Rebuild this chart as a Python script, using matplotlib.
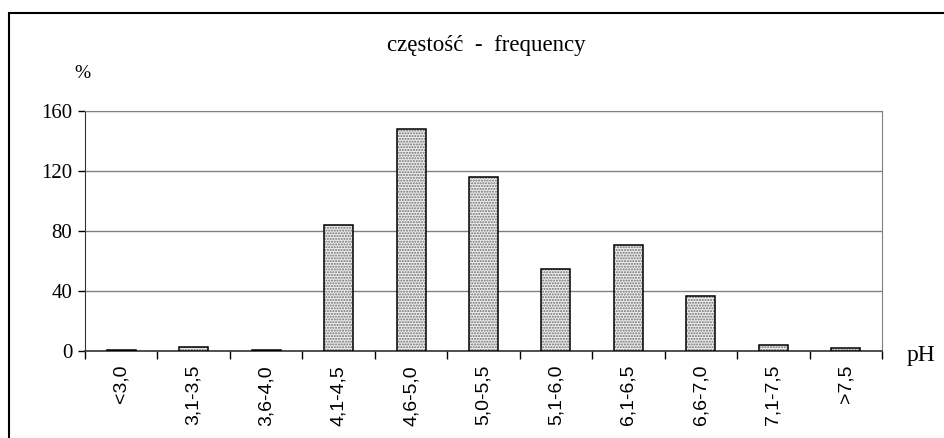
import matplotlib
matplotlib.use("Agg")
import matplotlib.pyplot as plt
from matplotlib.patches import Rectangle
import numpy as np

categories = ["<3,0", "3,1-3,5", "3,6-4,0", "4,1-4,5", "4,6-5,0", "5,0-5,5",
              "5,1-6,0", "6,1-6,5", "6,6-7,0", "7,1-7,5", ">7,5"]
values = [1, 3, 1, 84, 148, 116, 55, 71, 37, 4, 2]
yticks = [0, 40, 80, 120, 160]

plt.rcParams['font.family'] = ['Liberation Serif', 'DejaVu Serif']

fig = plt.figure(figsize=(9.44, 4.38), dpi=100)
fig.patches.append(Rectangle((9/944, -0.01), 1.0, 1 - 13/438 + 0.01, transform=fig.transFigure,
                             fill=False, edgecolor='black', linewidth=1.5))
ax = fig.add_axes([85/944, 1 - 351/438, (882 - 85)/944, (351 - 111)/438])

x = np.arange(len(categories))
ax.bar(x, values, width=0.4, color='#eeeeee', edgecolor='#6e6e6e', hatch='......',
       linewidth=0, zorder=3)
ax.bar(x, values, width=0.4, fill=False, edgecolor='black', linewidth=1.1, zorder=4)

ax.set_xlim(-0.5, len(categories) - 0.5)
ax.set_ylim(0, 160)
ax.set_yticks(yticks)
ax.yaxis.grid(True, color='#808080', linewidth=1.0, zorder=0)
ax.set_axisbelow(True)
ax.tick_params(axis='y', direction='out', length=5, width=1, labelsize=15, pad=4)

ax.set_xticks(np.arange(-0.5, len(categories), 1.0))
ax.set_xticklabels([])
ax.set_xticks(x, minor=True)
ax.set_xticklabels(categories, minor=True, rotation=90, fontsize=14,
                   family=['Liberation Sans', 'DejaVu Sans'])
ax.tick_params(axis='x', which='minor', length=0, pad=10)
ax.tick_params(axis='x', which='major', direction='out', length=6, width=1)

for s in ['top', 'right']:
    ax.spines[s].set_color('#808080')
ax.spines['left'].set_color('#333333')
ax.spines['bottom'].set_color('#333333')
ax.spines['bottom'].set_linewidth(1.2)

fig.text(486/944, 1 - 45/438, "częstość  -  frequency", ha='center', va='center', fontsize=16.5)
fig.text(82/944, 1 - 73/438, "%", ha='center', va='center', fontsize=14)
fig.text(921/944, 1 - 355/438, "pH", ha='center', va='center', fontsize=17)

fig.savefig("out.png", dpi=100)
